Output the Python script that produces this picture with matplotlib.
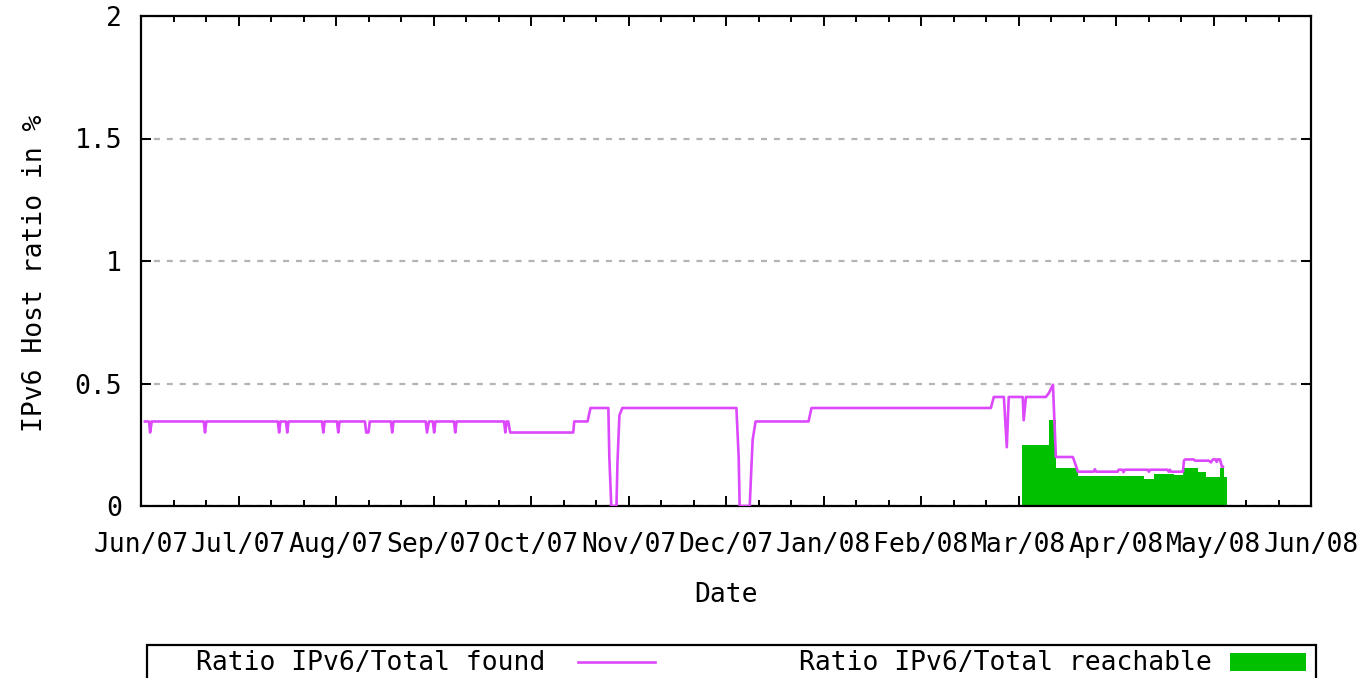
import numpy as np
import matplotlib
matplotlib.use('Agg')
import matplotlib.pyplot as plt
from matplotlib.patches import Rectangle
from matplotlib.lines import Line2D

plt.rcParams['font.family'] = ['DejaVu Sans Mono', 'DejaVu Sans']
plt.rcParams['lines.scale_dashes'] = False

# x values are days counted from the left edge of the plot (mid June 2007)
tick_labels = ['Jun/07', 'Jul/07', 'Aug/07', 'Sep/07', 'Oct/07', 'Nov/07', 'Dec/07',
               'Jan/08', 'Feb/08', 'Mar/08', 'Apr/08', 'May/08', 'Jun/08']

#---------------- Ratio IPv6/Total found (line) ----------------
found_days = [1.2, 2.5, 2.8, 3.3,
              19.3, 19.7, 20.1,
              42.1, 42.5, 42.9, 44.6, 45.0, 45.4,
              55.7, 56.1, 56.5,
              60.3, 60.7, 61.1,
              68.9, 69.3, 70.0, 70.4,
              76.9, 77.3, 77.7,
              87.6, 88.0, 88.6, 89.8, 90.2, 90.6,
              96.3, 96.7, 97.1,
              111.7, 112.1, 112.5,
              113.0, 113.6, 133.0, 133.3, 137.4, 138.3, 143.8, 144.1, 144.7, 146.3,
              146.6, 147.2, 148.1, 183.2, 183.9, 184.2, 187.3, 187.6, 188.2, 189.1,
              205.4, 206.3, 261.5, 262.4, 265.5, 266.4, 267.0, 271.3, 271.6, 272.3,
              278.4, 279.3, 280.6, 281.5, 286.7, 287.0, 288.3,
              293.1, 293.5, 293.9, 300.5, 300.8, 302.0, 302.3, 302.7, 309.8, 310.1,
              310.5, 315.9, 316.2, 316.6, 316.9, 317.5, 320.6, 320.9, 321.3, 323.9,
              324.3, 328.6, 329.2, 329.8, 330.7, 331.0, 331.3, 332.0, 332.6, 332.9]
found_vals = [0.345, 0.345, 0.30, 0.345,
              0.345, 0.30, 0.345,
              0.345, 0.30, 0.345, 0.345, 0.30, 0.345,
              0.345, 0.30, 0.345,
              0.345, 0.30, 0.345,
              0.345, 0.30, 0.30, 0.345,
              0.345, 0.30, 0.345,
              0.345, 0.30, 0.345, 0.345, 0.30, 0.345,
              0.345, 0.30, 0.345,
              0.345, 0.30, 0.345,
              0.345, 0.30, 0.30, 0.345, 0.345, 0.40, 0.40, 0.20, 0.0, 0.0,
              0.175, 0.37, 0.40, 0.40, 0.20, 0.0, 0.0, 0.094, 0.27, 0.345,
              0.345, 0.40, 0.40, 0.445, 0.445, 0.24, 0.445, 0.445, 0.35, 0.445,
              0.445, 0.46, 0.495, 0.20, 0.20, 0.19, 0.14,
              0.14, 0.15, 0.14, 0.14, 0.148, 0.148, 0.138, 0.148, 0.148, 0.14,
              0.148, 0.148, 0.14, 0.148, 0.14, 0.14, 0.14, 0.185, 0.19, 0.19,
              0.185, 0.185, 0.178, 0.19, 0.19, 0.18, 0.19, 0.19, 0.16, 0.16]

#---------------- Ratio IPv6/Total reachable (filled steps) ----------------
reach_days = [271.0, 279.3, 281.6, 288.2, 308.5, 311.6, 317.7, 320.6, 325.2, 327.6, 331.9, 333.2, 334.1]
reach_vals = [0.25, 0.35, 0.155, 0.122, 0.11, 0.13, 0.125, 0.155, 0.14, 0.12, 0.155, 0.12, 0.12]

line_col = '#dc48fc'
fill_col = '#00c000'

W, H = 1361, 678
fig = plt.figure(figsize=(W/100, H/100), dpi=100)
ax = fig.add_axes([141/W, 1-506/H, (1311-141)/W, (506-16)/H])

ax.fill_between(reach_days, reach_vals, 0, step='post', color=fill_col, linewidth=0, zorder=2)
ax.plot(found_days, found_vals, color=line_col, linewidth=1.9, zorder=3)

ax.set_xlim(0, 360)
ax.set_ylim(0, 2)
ax.set_xticks(np.arange(0, 361, 30), tick_labels)
ax.set_xticks(np.arange(0, 361, 10), minor=True)
ax.set_yticks([0, 0.5, 1, 1.5, 2], ['0', '0.5', '1', '1.5', '2'])

ax.grid(axis='y', color='#b4b4b4', linestyle=(0, (4.3, 5.0)), linewidth=1.6, zorder=1)
ax.set_axisbelow(True)

ax.tick_params(axis='both', which='major', direction='in', length=7.2, width=1.4,
               top=True, right=True, labelsize=19, colors='black')
ax.tick_params(axis='x', which='major', pad=18.5)
ax.tick_params(axis='y', which='major', pad=13.7)
ax.tick_params(axis='x', which='minor', direction='in', length=4.3, width=1.4, top=True)
for s in ax.spines.values():
    s.set_linewidth(1.6)

ax.set_xlabel('Date', fontsize=19)
ax.xaxis.set_label_coords(0.5, -0.155)
ax.set_ylabel('IPv6 Host ratio in %', fontsize=19)
ax.yaxis.set_label_coords(-0.0795, 0.474)

#---------------- legend box (gnuplot style, cut by the bottom edge) ----------------
def fx(px):
    return px / W

def fy(py):
    return 1 - py / H

fig.patches.append(Rectangle((fx(147), fy(700)), fx(1316) - fx(147), fy(645) - fy(700),
                             transform=fig.transFigure, fill=False, edgecolor='black',
                             linewidth=1.6, clip_on=False))
fig.text(fx(545), fy(663), 'Ratio IPv6/Total found', ha='right', va='center', fontsize=19)
fig.lines.append(Line2D([fx(578), fx(655)], [fy(662), fy(662)], transform=fig.transFigure,
                        color=line_col, linewidth=1.9))
fig.text(fx(1212), fy(663), 'Ratio IPv6/Total reachable', ha='right', va='center', fontsize=19)
fig.patches.append(Rectangle((fx(1230), fy(671)), fx(1306) - fx(1230), fy(653) - fy(671),
                             transform=fig.transFigure, facecolor=fill_col, edgecolor='none'))

fig.savefig('out.png', dpi=100)
